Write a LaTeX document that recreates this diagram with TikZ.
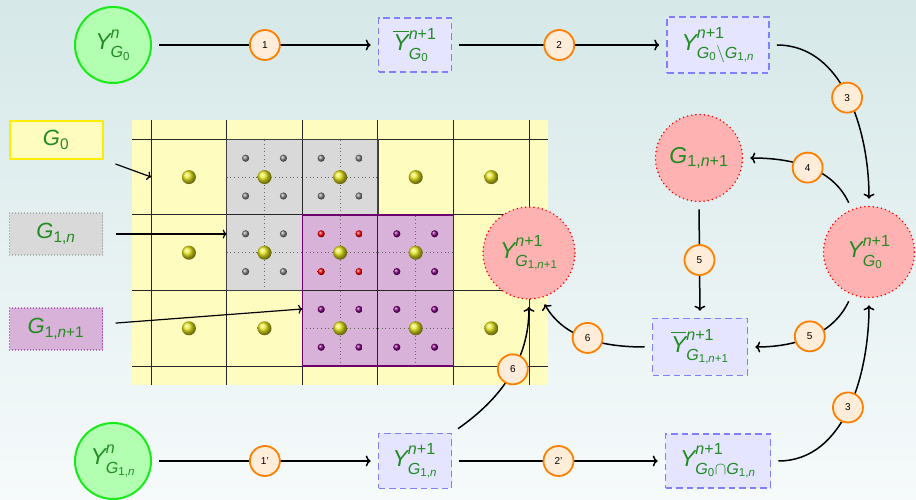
\documentclass[tikz,border=0pt]{standalone}
\usepackage{amsmath}
\usepackage{fontspec}
\setmainfont{Liberation Sans}
\usetikzlibrary{arrows.meta}

\definecolor{bgtop}{RGB}{214,232,232}
\definecolor{bgbot}{RGB}{246,250,251}
\definecolor{txtgreen}{RGB}{34,139,34}
\definecolor{lgreen}{RGB}{25,235,25}
\definecolor{pfill}{RGB}{216,178,216}
\definecolor{pdark}{RGB}{110,0,110}
\definecolor{pball}{RGB}{128,0,128}
\definecolor{ybal}{RGB}{228,228,25}

% sans letters, digits and signs in formulas
\newcommand{\Yv}{\mathit{Y}}
\newcommand{\Yb}{\smash[t]{\overline{\mathit{Y}}}}
\newcommand{\Gv}{\mathit{G}}
\newcommand{\nv}{\mathit{n}}
\newcommand{\dO}{\text{0}}
\newcommand{\dI}{\text{1}}
\newcommand{\pls}{\mathbin{\text{+}}}
\newcommand{\cma}{\mathpunct{\text{,}}}
% raised superscript / lowered subscript
\newcommand{\Up}[1]{\raisebox{2.5pt}{$\scriptstyle #1$}}
\newcommand{\Dn}[1]{\raisebox{-2pt}{$\scriptstyle #1$}}

\begin{document}
\begin{tikzpicture}[x=1pt,y=1pt,
  every node/.style={text=txtgreen, font=\fontsize{23}{27}\selectfont},
  startnode/.style={circle, draw=lgreen, fill=green!30, line width=2pt,
    minimum size=76pt, inner sep=0pt},
  resnode/.style={circle, draw=red, fill=red!30, line width=1.7pt,
    dash pattern=on 0pt off 4.2pt, line cap=round, inner sep=0pt},
  stepbox/.style={draw=blue!50, fill=blue!10, line width=1.6pt,
    dash pattern=on 6.5pt off 4pt, inner sep=0pt},
  num/.style={circle, draw=orange, fill=orange!15, line width=1.8pt,
    minimum size=30pt, inner sep=0pt, text=black,
    font=\fontsize{10}{12}\selectfont},
  flow/.style={-{To[length=5pt,width=11pt]}, line width=1.5pt,
    shorten >=7pt, shorten <=7pt},
  lblbox/.style={minimum width=93pt, inner sep=0pt,
    font=\fontsize{22}{26}\selectfont},
  lblarrow/.style={-{To[length=4pt,width=9pt]}, line width=1.2pt},
  gridline/.style={black!85, line width=1pt},
  subline/.style={black!60, line width=0.7pt, dash pattern=on 0.7pt off 3pt},
]
\useasboundingbox (0,0) rectangle (916,500);
\shade[top color=bgtop, bottom color=bgbot] (0,0) rectangle (916,500);

% ---- mesh: coarse grid G0 with refined patches ----
\fill[yellow!25] (132,115) rectangle (548,380);
\fill[gray!30] (226.7,209.5) -- (226.7,360.7) -- (377.9,360.7) -- (377.9,285.1)
  -- (302.3,285.1) -- (302.3,209.5) -- cycle;
\fill[pfill] (302.3,133.9) rectangle (453.5,285.1);
\foreach \i/\j in {1/2,2/2,1/1,2/1,3/1,2/0,3/0}{
  \draw[subline] ({151.1+\i*75.6},{133.9+(\j+0.5)*75.6}) -- ++(75.6,0);
  \draw[subline] ({151.1+(\i+0.5)*75.6},{133.9+\j*75.6}) -- ++(0,75.6);
}
\foreach \i in {0,...,5}
  \draw[gridline] ({151.1+\i*75.6},115) -- ({151.1+\i*75.6},380);
\foreach \j in {0,...,3}
  \draw[gridline] (132,{133.9+\j*75.6}) -- (548,{133.9+\j*75.6});
\draw[black!75, line width=1.3pt] (226.7,209.5) -- (226.7,360.7) -- (377.9,360.7)
  -- (377.9,285.1) -- (302.3,285.1) -- (302.3,209.5) -- cycle;
\draw[pdark, line width=1.6pt] (302.3,133.9) rectangle (453.5,285.1);
\foreach \i/\j in {0/0,1/0,2/0,3/0,4/0,0/1,1/1,2/1,3/1,0/2,1/2,2/2,3/2,4/2}
  \shade[ball color=ybal] ({151.1+(\i+0.5)*75.6},{133.9+(\j+0.5)*75.6}) circle[radius=7];
\foreach \i/\j/\c in {1/2/gray,2/2/gray,1/1/gray,2/1/red,3/1/pball,2/0/pball,3/0/pball}
  \foreach \dx in {-1,1}
    \foreach \dy in {-1,1}
      \shade[ball color=\c] ({151.1+(\i+0.5)*75.6+\dx*18.9},{133.9+(\j+0.5)*75.6+\dy*18.9}) circle[radius=3.6];

% ---- legend ----
\node[lblbox, minimum height=38pt, draw=yellow!95!orange, fill=yellow!25, line width=2pt]
  (lG0) at (56,360) {$\Gv_{\dO}$};
\node[lblbox, minimum height=42pt, draw=gray, fill=gray!30, line width=1.2pt,
  dash pattern=on 0pt off 3pt, line cap=round] (lG1) at (56,266) {$\Gv_{\dI\cma\nv}$};
\node[lblbox, minimum height=42pt, draw=pball, fill=pfill, line width=1.4pt,
  dash pattern=on 0pt off 3pt, line cap=round] (lG2) at (56,171) {$\Gv_{\dI\cma\nv\pls\dI}$};
\coordinate (c0) at (151.1,323);
\coordinate (c1) at (226.7,266);
\coordinate (c2) at (302.3,191);
\draw[lblarrow] ([xshift=12pt,yshift=-4pt]lG0.south east) -- (c0);
\draw[lblarrow, shorten <=12.5pt] (lG1.east) -- (c1);
\draw[lblarrow, shorten <=12.5pt] ([yshift=5pt]lG2.east) -- (c2);

% ---- states ----
\node[startnode] (gA) at (113,455) {$\Yv^{\Up{\nv}}_{\Dn{\Gv_{\dO}}}$};
\node[stepbox, minimum width=73pt, minimum height=54pt] (bA) at (415,455)
  {$\Yb^{\Up{\nv\pls\dI}}_{\Dn{\Gv_{\dO}}}$};
\node[stepbox, minimum width=102pt, minimum height=56pt] (bB) at (718,455)
  {$\Yv^{\Up{\nv\pls\dI}}_{\Dn{\Gv_{\dO}\setminus \Gv_{\dI\cma\nv}}}$};
\node[resnode, minimum size=91pt] (rY0) at (869,248)
  {$\Yv^{\Up{\nv\pls\dI}}_{\Dn{\Gv_{\dO}}}$};
\node[resnode, minimum size=87pt] (rG) at (699,342) {$\Gv_{\dI\cma\nv\pls\dI}$};
\node[stepbox, minimum width=95pt, minimum height=57pt] (bC) at (700,153)
  {$\Yb^{\Up{\nv\pls\dI}}_{\Dn{\Gv_{\dI\cma\nv\pls\dI}}}$};
\node[resnode, minimum size=92pt] (rY1) at (529,247)
  {$\Yv^{\Up{\nv\pls\dI}}_{\Dn{\Gv_{\dI\cma\nv\pls\dI}}}$};
\node[startnode] (gB) at (113,39) {$\Yv^{\Up{\nv}}_{\Dn{\Gv_{\dI\cma\nv}}}$};
\node[stepbox, minimum width=73pt, minimum height=55pt] (bD) at (415,39)
  {$\Yv^{\Up{\nv\pls\dI}}_{\Dn{\Gv_{\dI\cma\nv}}}$};
\node[stepbox, minimum width=105pt, minimum height=54pt] (bE) at (718,39)
  {$\Yv^{\Up{\nv\pls\dI}}_{\Dn{\Gv_{\dO}\cap \Gv_{\dI\cma\nv}}}$};

% ---- steps ----
\draw[flow] (gA) -- node[num] (n1) {1} (bA);
\draw[flow] (bA) -- node[num] (n2) {2} (bB);
\draw[flow] (bB.east) to[out=0,in=90] node[num] (n3a) {3} (rY0.north);
\draw[flow] (bE.east) to[out=0,in=-90] node[num] (n3b) {3} (rY0.south);
\draw[flow] (rY0.112) to[out=115,in=0] node[num] (n4) {4} (rG.east);
\draw[flow] (rG.south) -- node[num] (n5a) {5} (bC.north);
\draw[flow] (rY0.-112) to[out=-115,in=0] node[num] (n5b) {5} (bC.east);
\draw[flow] (bC.west) to[out=180,in=-60] node[num] (n6a) {6} (rY1.-75);
\draw[flow] (bD.north east) to[out=35,in=-90] node[num, pos=0.55] (n6b) {6} (rY1.south);
\draw[flow] (gB) -- node[num] (n1p) {1'} (bD);
\draw[flow] (bD) -- node[num] (n2p) {2'} (bE);
\end{tikzpicture}
\end{document}
